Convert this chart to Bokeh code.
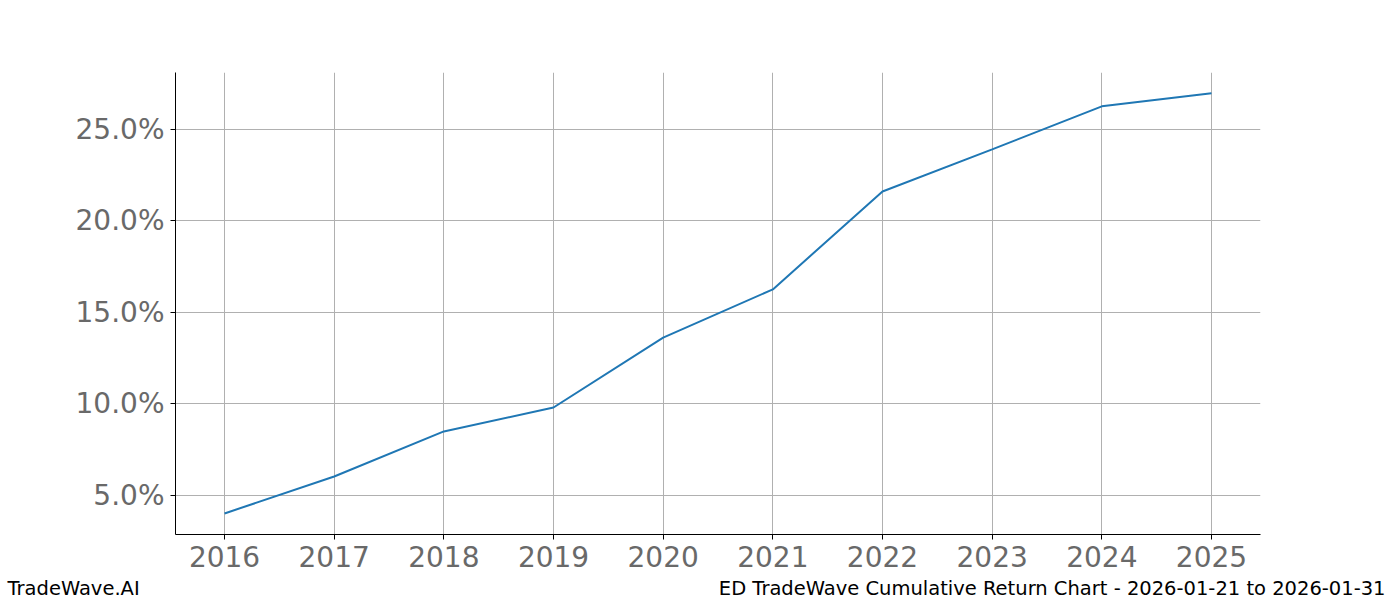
from bokeh.models import ColumnDataSource, Range1d, FixedTicker, PrintfTickFormatter
from bokeh.plotting import figure
from bokeh.layouts import column, row
from bokeh.core.properties import value
from bokeh.embed import file_html
from bokeh.resources import INLINE

# yearly cumulative return, percent
years = [2016, 2017, 2018, 2019, 2020, 2021, 2022, 2023, 2024, 2025]
returns = [4.02, 6.04, 8.50, 9.81, 13.63, 16.26, 21.61, 23.91, 26.26, 26.97]
y_ticks = [5, 10, 15, 20, 25]

footer_left = "TradeWave.AI"
footer_right = "ED TradeWave Cumulative Return Chart - 2026-01-21 to 2026-01-31"

FONT = "DejaVu Sans"
GREY = "#696969"

source = ColumnDataSource(data={'x': years, 'y': returns})

p = figure(frame_width=1085, frame_height=462,
           min_border_left=175, min_border_right=140,
           min_border_top=72, min_border_bottom=42,
           x_range=Range1d(2015.553, 2025.447), y_range=Range1d(2.87, 28.11),
           output_backend="svg", toolbar_location=None)

p.line(x='x', y='y', source=source, line_color='#1f77b4', line_width=2)

p.outline_line_color = None
p.xgrid.grid_line_color = '#b0b0b0'
p.ygrid.grid_line_color = '#b0b0b0'
p.xgrid.grid_line_width = 1
p.ygrid.grid_line_width = 1

p.xaxis.ticker = FixedTicker(ticks=years)
p.yaxis.ticker = FixedTicker(ticks=y_ticks)
p.yaxis.formatter = PrintfTickFormatter(format="%.1f%%")

for ax in (p.xaxis, p.yaxis):
    ax.axis_line_color = 'black'
    ax.axis_line_width = 1
    ax.major_tick_line_color = 'black'
    ax.major_tick_out = 5
    ax.major_tick_in = 0
    ax.minor_tick_line_color = None
    ax.major_label_text_font = FONT
    ax.major_label_text_font_size = '28px'
    ax.major_label_text_color = GREY
    ax.major_label_standoff = 6

# footer strip under the chart (own row so it is not aligned to the chart frame)
foot = figure(width=1400, height=24, min_border=0,
              x_range=Range1d(0, 1400), y_range=Range1d(0, 24),
              x_axis_type=None, y_axis_type=None,
              output_backend="svg", toolbar_location=None)
foot.outline_line_color = None
foot.xgrid.visible = False
foot.ygrid.visible = False
foot.text(x=[7], y=[12], text=[footer_left], text_font=value(FONT),
          text_font_size='19.5px', text_color='black',
          text_align='left', text_baseline='middle')
foot.text(x=[1385], y=[12], text=[footer_right], text_font=value(FONT),
          text_font_size='19.5px', text_color='black',
          text_align='right', text_baseline='middle')

layout = column(p, row(foot), spacing=0)

open("out.html", "w").write(file_html(layout, INLINE))
